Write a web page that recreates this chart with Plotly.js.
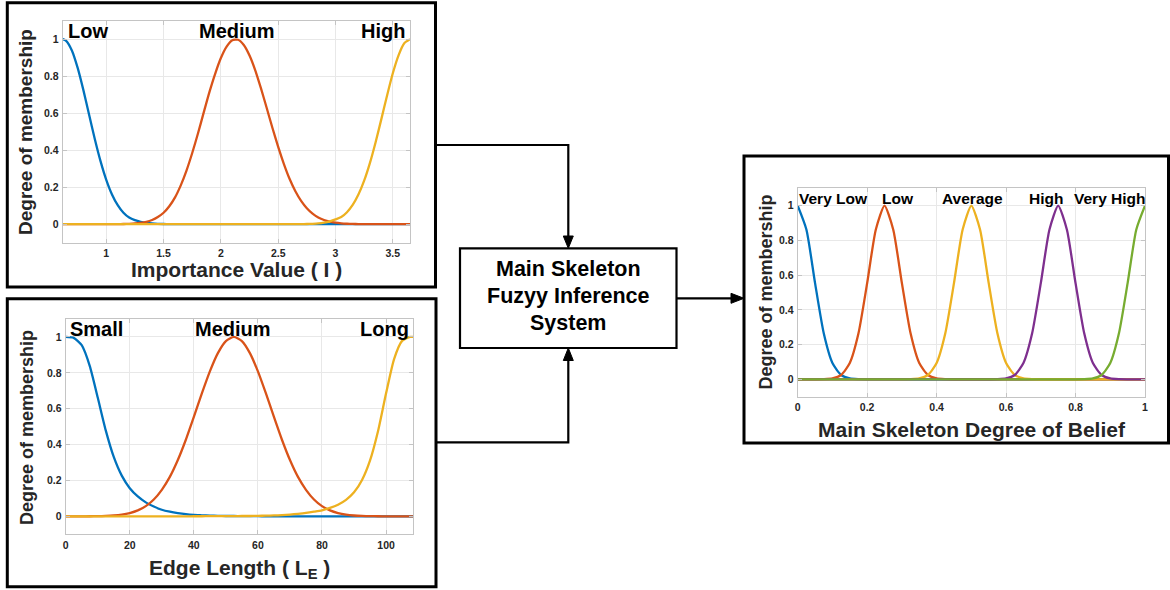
<!DOCTYPE html>
<html><head><meta charset="utf-8">
<script src="https://cdn.plot.ly/plotly-3.0.1.min.js"></script>
<style>html,body{margin:0;padding:0;background:#fff;}#chart{width:1170px;height:590px;}</style>
</head><body><div id="chart"></div>
<script>
// ---------- Panel 1: Importance Value (I) ----------
const impX = [0.62,0.65,0.7,0.75,0.8,0.85,0.9,0.95,1.0,1.05,1.1,1.15,1.2,1.25,1.3,1.35,1.4,1.45,1.5,1.55,1.6,1.65,1.7,1.75,1.8,1.85,1.9,1.95,2.0,2.05,2.1,2.15,2.2,2.25,2.3,2.35,2.4,2.45,2.5,2.55,2.6,2.65,2.7,2.75,2.8,2.85,2.9,2.95,3.0,3.05,3.1,3.15,3.2,3.25,3.3,3.35,3.4,3.45,3.5,3.55,3.6,3.65];
const impLow = [1,0.991,0.939,0.846,0.726,0.593,0.461,0.341,0.24,0.161,0.103,0.062,0.036,0.022,0.013,0.0075,0.004,0.002,0.001,0.0005,
  0,0,0,0,0,0,0,0,0,0,0,0,0,0,0,0,0,0,0,0,0,0,0,0,0,0,0,0,0,0,0,0,0,0,0,0,0,0,0,0,0,0];
const impMedium = [0,0,0,0,0,0,0,0,0.0001,0.0003,0.0005,0.001,0.002,0.004,0.0075,0.013,0.023,0.039,0.062,0.097,0.145,0.21,0.29,0.385,0.49,0.603,0.714,0.813,0.898,0.96,0.994,0.997,0.969,0.912,0.832,0.734,0.628,0.52,0.418,0.325,0.244,0.178,0.126,0.0862,0.0571,0.0367,0.0228,0.0137,0.008,0.0045,0.0025,0.0013,0.0007,0.0003,0.0002,
  0,0,0,0,0,0,0];
const impHigh = [0,0,0,0,0,0,0,0,0,0,0,0,0,0,0,0,0,0,0,0,0,0,0,0,0,0,0,0,0,0,0,0,0,0,0,0,0,0,0,0,0,0,
  0.0005,0.001,0.002,0.004,0.008,0.015,0.026,0.0384,0.0646,0.104,0.16,0.235,0.33,0.443,0.568,0.696,0.816,0.913,0.978,1];
const impTicks = [1,1.5,2,2.5,3,3.5];
const impTickText = ["1","1.5","2","2.5","3","3.5"];
const impLabels = ["Low","Medium","High"];

// ---------- Panel 2: Edge Length (L_E) ----------
const edgeX = [0,2.5,5,7.5,10,12.5,15,17.5,20,22.5,25,27.5,30,32.5,35,37.5,40,42.5,45,47.5,50,52.5,55,57.5,60,62.5,65,67.5,70,72.5,75,77.5,80,82.5,85,87.5,90,92.5,95,97.5,100,102.5,105,107.5,108.5];
const edgeSmall = [1,0.995,0.954,0.839,0.662,0.479,0.331,0.227,0.157,0.111,0.078,0.055,0.037,0.026,0.018,0.012,0.008,0.006,0.004,0.003,0.002,0.002,0.001,0.001,0.001,0,0,0,0,0,0,0,0,0,0,0,0,0,0,0,0,0,0,0,0];
const edgeMedium = [0,0,0.0002,0.0005,0.0011,0.0024,0.0049,0.0097,0.0185,0.0333,0.057,0.094,0.148,0.22,0.314,0.427,0.554,0.685,0.808,0.91,0.977,1,0.977,0.91,0.808,0.685,0.554,0.427,0.314,0.22,0.148,0.094,0.057,0.0333,0.0185,0.0097,0.0049,0.0024,0.0011,0.0005,0.0002,0.0001,0,0,0];
const edgeLong = [0,0,0,0,0,0,0,0,0,0,0,0,0,0,0,0,0.0005,0.0007,0.001,0.001,0.001,0.0015,0.002,0.002,0.003,0.004,0.005,0.007,0.01,0.014,0.019,0.026,0.034,0.047,0.065,0.092,0.134,0.203,0.312,0.476,0.686,0.877,0.978,1,1];
const edgeTicks = [0,20,40,60,80,100];
const edgeTickText = ["0","20","40","60","80","100"];
const edgeLabels = ["Small","Medium","Long"];

// ---------- Panel 3: Main Skeleton Degree of Belief ----------
const belX = [0,0.025,0.05,0.075,0.1,0.125,0.15,0.175,0.2,0.225,0.25,0.275,0.3,0.325,0.35,0.375,0.4,0.425,0.45,0.475,0.5,0.525,0.55,0.575,0.6,0.625,0.65,0.675,0.7,0.725,0.75,0.775,0.8,0.825,0.85,0.875,0.9,0.925,0.95,0.975,1];
const belVeryLow = [1,0.863,0.554,0.265,0.094,0.025,0.005,0.0007,0.0001,0,0,0,0,0,0,0,0,0,0,0,0,0,0,0,0,0,0,0,0,0,0,0,0,0,0,0,0,0,0,0,0];
const belLow = [0,0,0.0001,0.0007,0.005,0.025,0.094,0.265,0.554,0.863,1,0.863,0.554,0.265,0.094,0.025,0.005,0.0007,0.0001,0,0,0,0,0,0,0,0,0,0,0,0,0,0,0,0,0,0,0,0,0,0];
const belAverage = [0,0,0,0,0,0,0,0,0,0,0,0,0.0001,0.0007,0.005,0.025,0.094,0.265,0.554,0.863,1,0.863,0.554,0.265,0.094,0.025,0.005,0.0007,0.0001,0,0,0,0,0,0,0,0,0,0,0,0];
const belHigh = [0,0,0,0,0,0,0,0,0,0,0,0,0,0,0,0,0,0,0,0,0,0,0.0001,0.0007,0.005,0.025,0.094,0.265,0.554,0.863,1,0.863,0.554,0.265,0.094,0.025,0.005,0.0007,0.0001,0,0];
const belVeryHigh = [0,0,0,0,0,0,0,0,0,0,0,0,0,0,0,0,0,0,0,0,0,0,0,0,0,0,0,0,0,0,0,0,0.0001,0.0007,0.005,0.025,0.094,0.265,0.554,0.863,1];
const belTicks = [0,0.2,0.4,0.6,0.8,1];
const belTickText = ["0","0.2","0.4","0.6","0.8","1"];
const belLabels = ["Very Low","Low","Average","High","Very High"];

const yTicks = [0,0.2,0.4,0.6,0.8,1];
const yTickText = ["0","0.2","0.4","0.6","0.8","1"];

// ---------- layout helpers ----------
const W = 1170, H = 590;
const X = p => p / W, Y = p => 1 - p / H;
const FONT = '"Liberation Sans", Arial, Helvetica, sans-serif';
const C = ['#0072BD','#D95319','#EDB120','#7E2F8E','#77AC30'];

function tr(x, y, c, xa, ya) {
  return {x: x, y: y, type: 'scatter', mode: 'lines', xaxis: xa, yaxis: ya,
    line: {color: c, width: 2.3, shape: 'spline', smoothing: 0.6}, hoverinfo: 'skip', showlegend: false};
}
function axis(domain, range, tv, tt, anchor) {
  return {domain: domain, range: range, tickvals: tv, ticktext: tt, anchor: anchor,
    showgrid: true, gridcolor: '#e8e8e8', gridwidth: 1, zeroline: false,
    showline: true, linecolor: '#c4c4c4', linewidth: 1, mirror: 'ticks',
    ticks: 'inside', ticklen: 4, tickcolor: '#c4c4c4', ticklabelstandoff: 1,
    tickfont: {family: FONT, size: 10.5, color: '#262626', weight: 'bold'}, fixedrange: true};
}
function ann(text, px, py, size, extra) {
  return Object.assign({text: text, xref: 'paper', yref: 'paper', x: X(px), y: Y(py),
    xanchor: 'center', yanchor: 'middle', showarrow: false, borderpad: 0,
    font: {family: FONT, size: size, color: '#000', weight: 'bold'}}, extra || {});
}
function title(text, px, py, size, extra) {
  return ann(text, px, py, size, Object.assign({font: {family: FONT, size: size, color: '#262626', weight: 'bold'}}, extra || {}));
}
function rect(x0, y0, x1, y1, w) {
  return {type: 'rect', xref: 'paper', yref: 'paper', x0: X(x0), x1: X(x1), y0: Y(y0), y1: Y(y1),
    line: {color: '#000', width: w}, fillcolor: 'rgba(0,0,0,0)'};
}
function seg(pts, w) {
  let d = 'M ' + pts.map(p => X(p[0]) + ' ' + Y(p[1])).join(' L ');
  return {type: 'path', xref: 'paper', yref: 'paper', path: d, line: {color: '#000', width: w}};
}
function tri(pts) {
  let d = 'M ' + pts.map(p => X(p[0]) + ' ' + Y(p[1])).join(' L ') + ' Z';
  return {type: 'path', xref: 'paper', yref: 'paper', path: d, line: {color: '#000', width: 1}, fillcolor: '#000'};
}

const data = [
  tr(impX, impLow, C[0], 'x', 'y'), tr(impX, impMedium, C[1], 'x', 'y'), tr(impX, impHigh, C[2], 'x', 'y'),
  tr(edgeX, edgeSmall, C[0], 'x2', 'y2'), tr(edgeX, edgeMedium, C[1], 'x2', 'y2'), tr(edgeX, edgeLong, C[2], 'x2', 'y2'),
  tr(belX, belVeryLow, C[0], 'x3', 'y3'), tr(belX, belLow, C[1], 'x3', 'y3'), tr(belX, belAverage, C[2], 'x3', 'y3'),
  tr(belX, belHigh, C[3], 'x3', 'y3'), tr(belX, belVeryHigh, C[4], 'x3', 'y3')
];

const layout = {
  width: W, height: H, margin: {l: 0, r: 0, t: 0, b: 0},
  paper_bgcolor: '#fff', plot_bgcolor: '#fff', showlegend: false,
  xaxis: axis([X(62.7), X(410)], [0.62, 3.65], impTicks, impTickText, 'y'),
  yaxis: axis([Y(242.7), Y(20.7)], [-0.1, 1.1], yTicks, yTickText, 'x'),
  xaxis2: axis([X(65.7), X(413.3)], [0, 108.5], edgeTicks, edgeTickText, 'y2'),
  yaxis2: axis([Y(534.3), Y(319)], [-0.1, 1.1], yTicks, yTickText, 'x2'),
  xaxis3: axis([X(797.7), X(1145)], [0, 1], belTicks, belTickText, 'y3'),
  yaxis3: axis([Y(396.7), Y(188.3)], [-0.1, 1.1], yTicks, yTickText, 'x3'),
  shapes: [
    rect(7.3, 2.8, 435.5, 287, 3),
    rect(7.3, 298.7, 436, 586.7, 3),
    rect(744, 156, 1168.5, 443, 3),
    rect(460, 248.3, 676.5, 348, 2.2),
    seg([[436, 145], [568.3, 145], [568.3, 238]], 2.2),
    tri([[563.3, 236], [573.3, 236], [568.3, 248.3]]),
    seg([[436, 442.3], [568.3, 442.3], [568.3, 358]], 2.2),
    tri([[563.3, 360.5], [573.3, 360.5], [568.3, 348]]),
    seg([[676.5, 298.3], [733, 298.3]], 2.2),
    tri([[731, 293.3], [731, 303.3], [744, 298.3]])
  ],
  annotations: [
    ann(impLabels[0], 88.3, 31, 20), ann(impLabels[1], 236.7, 31, 20), ann(impLabels[2], 383.3, 31, 20),
    ann(edgeLabels[0], 96.8, 329, 20), ann(edgeLabels[1], 232.7, 329, 20), ann(edgeLabels[2], 384.3, 329, 20),
    ann(belLabels[0], 833, 198.5, 15.5), ann(belLabels[1], 897.8, 198.5, 15.5), ann(belLabels[2], 972.5, 198.5, 15.5),
    ann(belLabels[3], 1045.8, 198.5, 15.5), ann(belLabels[4], 1109.5, 198.5, 15.5),
    title('Degree of membership', 25, 132, 19, {textangle: -90}),
    title('Degree of membership', 27, 428, 18, {textangle: -90}),
    title('Degree of membership', 765, 292.5, 18, {textangle: -90}),
    title('Importance Value ( I )', 236, 269, 21),
    title('Edge Length ( L<sub>E</sub> )', 239.7, 569, 21),
    title('Main Skeleton Degree of Belief', 972, 429, 21),
    ann('Main Skeleton', 568.3, 269, 21.5),
    ann('Fuzyy Inference', 568.3, 296, 21.5),
    ann('System', 568.3, 323, 21.5)
  ]
};

Plotly.newPlot('chart', data, layout, {staticPlot: true, displayModeBar: false});
</script>
</body></html>
